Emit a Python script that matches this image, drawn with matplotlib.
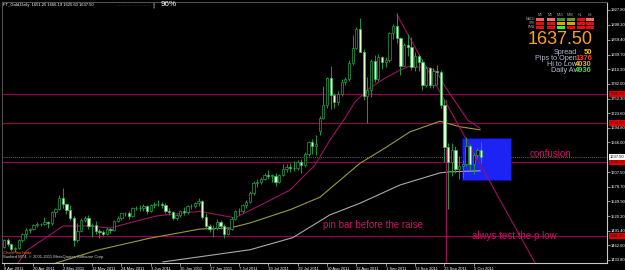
import matplotlib
matplotlib.use('Agg')
import matplotlib.pyplot as plt
from matplotlib.patches import Rectangle

# ---------------- data ----------------
opens = [1459,1474,1465,1455,1457,1473,1486,1493,1496,1503,1504,1504,1508,1506,1529,1535,
         1556,1545,1533,1516,1474,1492,1513,1517,1500,1502,1492,1490,1486,1496,1494,1510,
         1517,1526,1526,1521,1536,1537,1536,1541,1531,1542,1544,1545,1543,1531,1528,1516,
         1522,1530,1529,1540,1541,1546,1550,1519,1500,1496,1497,1509,1501,1485,1496,1515,
         1530,1530,1542,1549,1566,1585,1587,1594,1602,1600,1600,1587,1601,1614,1617,1616,
         1615,1628,1621,1643,1666,1659,1688,1714,1741,1793,1760,1746,1761,1785,1792,1823,
         1852,1891,1845,1757,1770,1827,1792,1834,1826,1829,1883,1896,1873,1818,1858,1855,
         1816,1836,1825,1780,1814,1779,1807,1806,1741,1657,1628,1651,1614,1620,1624,1659,
         1623,1642,1651.25]
highs = [1476,1477,1467,1460,1475,1487,1497,1498,1505,1508,1506,1518,1510,1530,1536,1563,
         1577,1547,1542,1520,1507,1517,1521,1522,1506,1510,1495,1494,1499,1498,1512,1521,
         1527,1529,1530,1538,1540,1542,1545,1543,1545,1549,1552,1548,1546,1536,1531,1525,
         1533,1538,1542,1545,1549,1556,1552,1526,1505,1502,1515,1512,1504,1498,1518,1532,
         1536,1545,1552,1570,1589,1593,1597,1606,1611,1604,1605,1604,1624,1623,1625,1629,
         1632,1634,1647,1668,1673,1681,1718,1778,1795,1817,1764,1767,1791,1795,1829,1878,
         1895,1912,1850,1795,1830,1839,1840,1837,1835,1884,1900,1921,1875,1863,1880,1875,
         1845,1840,1830,1818,1815,1813,1820,1810,1752,1665,1665,1660,1640,1632,1676,1663,
         1645,1656,1666.19]
lows = [1457,1462,1452,1450,1455,1470,1478,1488,1494,1499,1501,1502,1497,1503,1518,1533,
        1537,1525,1512,1462,1470,1490,1509,1495,1480,1485,1478,1481,1484,1487,1491,1508,
        1512,1520,1515,1519,1532,1530,1531,1525,1529,1537,1540,1536,1526,1522,1513,1512,
        1518,1522,1525,1535,1537,1540,1515,1497,1490,1480,1494,1495,1478,1483,1493,1513,
        1522,1526,1537,1546,1563,1578,1583,1591,1594,1588,1580,1585,1600,1608,1607,1609,
        1611,1606,1617,1639,1644,1642,1680,1712,1735,1733,1735,1740,1758,1780,1788,1820,
        1850,1845,1750,1705,1755,1786,1788,1812,1815,1826,1870,1862,1800,1817,1837,1810,
        1808,1808,1770,1776,1774,1774,1780,1734,1627,1535,1600,1605,1594,1595,1620,1612,
        1603,1635,1625.60]
closes = [1474,1465,1455,1457,1473,1486,1493,1496,1503,1504,1504,1508,1506,1529,1535,1556,
          1545,1533,1516,1474,1492,1513,1517,1500,1502,1492,1490,1486,1496,1494,1510,1517,
          1526,1526,1521,1536,1537,1536,1541,1531,1542,1544,1545,1543,1531,1528,1516,1522,
          1530,1529,1540,1541,1546,1550,1519,1500,1496,1497,1509,1501,1485,1496,1515,1530,
          1530,1542,1549,1566,1585,1587,1594,1602,1600,1600,1587,1601,1614,1617,1616,1615,
          1628,1621,1643,1666,1659,1663,1714,1741,1793,1760,1746,1761,1785,1792,1823,1852,
          1891,1845,1757,1770,1827,1792,1834,1826,1829,1883,1896,1873,1818,1858,1855,1816,
          1836,1825,1780,1814,1779,1807,1806,1741,1657,1628,1651,1614,1620,1624,1659,1623,
          1642,1651,1637.50]

date_tick_idx = [0, 8, 16, 24, 32, 40, 48, 56, 64, 72, 80, 88, 96, 104, 112, 120, 128]
date_tick_labels = ['8 Apr 2011', '20 Apr 2011', '2 May 2011', '12 May 2011', '24 May 2011',
                    '3 Jun 2011', '15 Jun 2011', '27 Jun 2011', '7 Jul 2011', '19 Jul 2011',
                    '29 Jul 2011', '10 Aug 2011', '22 Aug 2011', '1 Sep 2011', '13 Sep 2011',
                    '23 Sep 2011', '5 Oct 2011']
price_ticks = [1927.80, 1898.20, 1869.40, 1839.70, 1810.90, 1782.00, 1752.30, 1723.60,
               1694.80, 1666.00, 1607.50, 1578.70, 1549.90, 1520.20, 1491.40,
               1462.60, 1433.80]

# moving averages (bar index, price)
ma_fast_x = [3, 6.3, 16.1, 22.6, 28.9, 35.1, 41.7, 53.4, 62.9, 69.8, 77.9, 84.7, 88.8, 92.9,
             95.6, 99.7, 103.8, 107.9, 110.6, 116.1, 118, 120.2, 126.4, 129.7]
ma_fast_y = [1420, 1453, 1501, 1501, 1497, 1509, 1521, 1530, 1517, 1542, 1572, 1621, 1671,
             1714, 1746, 1774, 1793, 1809, 1817, 1813, 1805, 1776, 1710, 1694]
ma_mid_x = [12.5, 25.3, 39.8, 53.4, 61.6, 67, 77.9, 86.1, 97, 103.8, 110.6, 118.8, 124.3, 129.7]
ma_mid_y = [1424, 1453, 1477, 1495, 1497, 1507, 1533, 1558, 1625, 1655, 1687, 1708, 1697, 1691]
ma_slow_x = [43.3, 67, 78.7, 88.8, 97, 107.9, 118.8, 121.5, 129.7]
ma_slow_y = [1430, 1454, 1478, 1523, 1546, 1582, 1606, 1608, 1610]

hlines = [1761.80, 1704.50, 1626.50, 1481.20]
hline_labels = ['1761.80', '1704.50', '1626.50', '1481.20']
last_price = 1637.50
trend_x = [107.1, 144.7]
trend_y = [1917.9, 1427.9]
vline_x = 120.4
box_x0, box_x1 = 124.8, 138.2
box_y0, box_y1 = 1591.9, 1674.9

# ---------------- figure ----------------
W, H = 625, 270
fig = plt.figure(figsize=(W / 100, H / 100), dpi=100, facecolor='black')
ax = fig.add_axes([2 / W, 7 / H, 605 / W, 261 / H], facecolor='black')
ax.set_xlim(-0.55, 164.3)
ax.set_ylim(1427.87, 1943.6)

SMALL = dict(family='Liberation Sans', fontsize=3.0)

# horizontal lines
for p in hlines:
    ax.axhline(p, color='#99004f', lw=0.8, zorder=1)
ax.axhline(last_price, color='#8a8a8a', lw=0.6, ls=(0, (1, 1.5)), zorder=1)

# blue box
ax.add_patch(Rectangle((box_x0, box_y0), box_x1 - box_x0, box_y1 - box_y0,
                       facecolor='#1d22f5', edgecolor='#0000c0', lw=0.6, ls=':', zorder=2))

# moving averages
ax.plot(ma_slow_x, ma_slow_y, color='#a9a9a9', lw=0.8, zorder=3)
ax.plot(ma_mid_x, ma_mid_y, color='#9c9a3c', lw=0.8, zorder=3)
ax.plot(ma_fast_x, ma_fast_y, color='#9a1560', lw=0.8, zorder=3)

# trendline and vertical line
ax.plot(trend_x, trend_y, color='#a0105a', lw=0.8, zorder=3)
ax.plot([vline_x, vline_x], [1427.87, 1750], color='#a0105a', lw=0.8, zorder=3)

# candles
bw = 0.62
for i, (o, h, l, c) in enumerate(zip(opens, highs, lows, closes)):
    ax.plot([i, i], [l, h], color='#1c9a40', lw=0.7, zorder=4, solid_capstyle='butt')
    bull = c >= o
    lo = min(o, c)
    ht = max(abs(c - o), 0.8)
    ax.add_patch(Rectangle((i - bw / 2, lo), bw, ht,
                           facecolor='black' if bull else '#dcffcc',
                           edgecolor='#22a548' if bull else '#3dbb5a', lw=0.5, zorder=5))

# annotations
ANN = dict(color='#d0106a', fontsize=7, family='Liberation Sans', va='center', zorder=6)
ax.text(86.9, 1503, 'pin bar before the raise', ha='left', **ANN)
ax.text(127.5, 1482, 'alwys test the p low', ha='left', **ANN)
ax.text(143.3, 1644, 'confusion', ha='left', **ANN)

# axes styling
for s in ['top', 'left']:
    ax.spines[s].set_color('#505050')
    ax.spines[s].set_linewidth(0.8)
for s in ['bottom', 'right']:
    ax.spines[s].set_color('#c8c8c8')
    ax.spines[s].set_linewidth(0.8)
ax.yaxis.tick_right()
ax.set_yticks(price_ticks)
ax.set_yticklabels(['%.2f' % v for v in price_ticks], **SMALL)
ax.set_xticks(date_tick_idx)
ax.set_xticklabels(date_tick_labels, ha='left', **SMALL)
ax.tick_params(axis='both', colors='#c8c8c8', labelcolor='white',
               length=2, width=0.5, pad=1)
ax.tick_params(axis='x', pad=1.2)

# axis price labels (red for lines, white for current)
for p, lab in zip(hlines, hline_labels):
    ax.text(1.004, p, lab, transform=ax.get_yaxis_transform(), color='#3a0000',
            va='center', ha='left',
            bbox=dict(boxstyle='square,pad=0.2', facecolor='#e00000', edgecolor='none'),
            **SMALL)
ax.text(1.004, last_price, '1637.50', transform=ax.get_yaxis_transform(),
        color='black', va='center', ha='left',
        bbox=dict(boxstyle='square,pad=0.2', facecolor='white', edgecolor='none'), **SMALL)


def ftext(x, y, s, **kw):
    fig.text(x / W, 1 - y / H, s, **kw)


# header texts
ftext(3, 5, 'FT_Gold,Daily  1651.25 1666.19 1625.60 1637.50', color='white',
      va='center', ha='left', **SMALL)
ftext(117, 5.5, '. . . . . . . . . . . . . . .', color='#c0c0c0', fontsize=3.0,
      family='Liberation Sans', va='center', ha='left')
ftext(152.5, 5, '|', color='white', fontsize=4.5, va='center', ha='left')
ftext(161, 5, '96%', color='white', fontsize=5.8, va='center', ha='left',
      family='Liberation Sans')

# status panel
cols = ['M1', 'M5', 'M15', 'M30', 'H1', 'H4']
col_x = [540, 550.5, 560.5, 570.5, 580.5, 589.5]
rows = ['MACD', 'STR', 'EMA']
row_y = [19.5, 23.5, 27.5]
cell_colors = [['#ff5a5a', '#ff6a6a', '#4f8f2f', '#6a9a2a', '#e01010', '#ff6a6a'],
               ['#e01010', '#e01010', '#e0a010', '#e0a010', '#e01010', '#e01010'],
               ['#e01010', '#e01010', '#30ff30', '#e01010', '#e01010', '#e01010']]
for cx, cname in zip(col_x, cols):
    ftext(cx, 15, cname, color='#a0a0a0', fontsize=2.6, family='Liberation Sans',
          ha='center', va='center')
for ry, rname, rc in zip(row_y, rows, cell_colors):
    ftext(535, ry, rname, color='#a0a0a0', fontsize=2.3, family='Liberation Sans',
          ha='right', va='center')
    for cx, colr in zip(col_x, rc):
        fig.add_artist(Rectangle(((cx - 4) / W, 1 - (ry + 1.5) / H), 8 / W, 3 / H,
                                 transform=fig.transFigure, facecolor=colr, edgecolor='none'))
ftext(560.5, 39.5, '1637.50', color='#ffa01e', fontsize=13, ha='center', va='center',
      family='Liberation Sans')
lab_c = '#b4bcd4'
info = [('Spread', '50', '#f0d000', 52.5), ('Pips to Open', '1376', '#ff3c28', 58.5),
        ('Hi to Low', '4030', '#f0b400', 64.5), ('Daily Av', '4936', '#30e030', 71)]
for lab, val, vc, yy in info:
    ftext(577, yy, lab, color=lab_c, fontsize=5.2, ha='right', va='center',
          family='Liberation Sans')
    ftext(592, yy, val, color=vc, fontsize=5.4, ha='right', va='center',
          family='Liberation Sans', weight='bold')

# bottom-left texts
ftext(3, 253, 'ChartPlan huda', color='#ff7020', ha='left', va='center', **SMALL)
ftext(3, 257, 'Sunbird MT4, \u00a9 2001-2011 MetaQuotes Software Corp.', color='#d0d0d0',
      ha='left', va='center', **SMALL)

fig.savefig('out.png', dpi=100, facecolor='black')
